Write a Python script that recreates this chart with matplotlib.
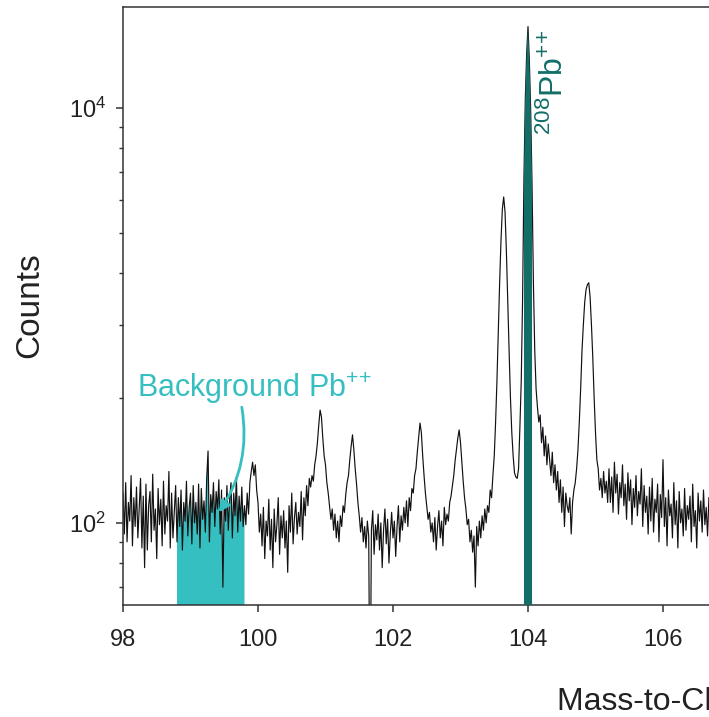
import numpy as np
import matplotlib.pyplot as plt
from matplotlib.ticker import LogLocator, NullFormatter

plt.rcParams['font.family'] = ['Liberation Sans', 'DejaVu Sans']
plt.rcParams['mathtext.fontset'] = 'custom'
plt.rcParams['mathtext.rm'] = 'Liberation Sans'
plt.rcParams['mathtext.it'] = 'Liberation Sans:italic'
plt.rcParams['mathtext.bf'] = 'Liberation Sans:bold'

# spectrum, 98.00 .. 106.68 Da, 0.02 Da steps
mz_start = 98.0
mz_step = 0.02
counts = [
    1180, 940, 1250, 900, 1120, 1010, 1300, 880, 1150, 980,      # 98.0
    1220, 920, 1090, 1280, 870, 1160, 780, 1240, 860, 1100,      # 98.2
    1190, 900, 1310, 960, 1080, 820, 1210, 990, 1140, 880,       # 98.4
    1260, 940, 1100, 1010, 1330, 870, 1180, 920, 1060, 1230,     # 98.6
    900, 1150, 980, 1200, 860, 1120, 1010, 1260, 930, 1090,      # 98.8
    1180, 890, 1230, 1000, 1120, 940, 1240, 870, 1210, 1020,     # 99.0
    1130, 950, 1280, 1490, 900, 1170, 1060, 1250, 980, 1190,     # 99.2
    1080, 1270, 940, 1200, 700, 1150, 1010, 1230, 960, 1140,     # 99.4
    1250, 920, 1180, 1040, 1290, 950, 1160, 1010, 1220, 980,     # 99.6
    1100, 990, 1180, 1050, 1250, 1330, 1400, 1300, 1380, 1200,   # 99.8
    1120, 950, 1050, 880, 1090, 820, 1010, 930, 1140, 860,       # 100.0
    1020, 780, 1080, 900, 990, 1150, 840, 1040, 920, 1070,       # 100.2
    870, 1010, 760, 1100, 950, 1180, 890, 1030, 1120, 940,       # 100.4
    1060, 980, 1190, 910, 1150, 1040, 1230, 1100, 1280, 1220,    # 100.6
    1300, 1260, 1380, 1450, 1560, 1720, 1870, 1800, 1600, 1450,  # 100.8
    1380, 1250, 1180, 1100, 1020, 1080, 960, 1050, 920, 1010,    # 101.0
    900, 1040, 980, 1100, 1060, 1170, 1250, 1300, 1420, 1530,    # 101.2
    1630, 1500, 1350, 1240, 1120, 1040, 950, 1030, 900, 980,     # 101.4
    870, 1010, 930, 300, 960, 1070, 840, 990, 910, 1050,         # 101.6
    860, 1000, 780, 960, 1080, 890, 1020, 800, 940, 1060,        # 101.8
    920, 1010, 830, 980, 1100, 900, 1040, 960, 1090, 1000,       # 102.0
    1130, 980, 1150, 1070, 1210, 1180, 1300, 1350, 1480, 1600,   # 102.2
    1740, 1650, 1450, 1300, 1180, 1100, 1020, 1060, 950, 1000,   # 102.4
    900, 1030, 860, 980, 1070, 920, 1010, 880, 1090, 990,        # 102.6
    1050, 1010, 1120, 1160, 1230, 1300, 1410, 1500, 1600, 1675,  # 102.8
    1560, 1400, 1260, 1150, 1080, 990, 1020, 900, 960, 850,      # 103.0
    930, 700, 980, 880, 1010, 920, 1040, 960, 1080, 1000,        # 103.2
    1100, 1060, 1200, 1150, 1300, 1450, 1750, 2200, 2900, 3800,  # 103.4
    4800, 5700, 6100, 5600, 4500, 3400, 2600, 2000, 1650, 1450,  # 103.6
    1320, 1290, 1280, 1350, 1700, 2200, 3500, 6800, 10500, 13500,  # 103.8
    15700, 13000, 9800, 6500, 3800, 2600, 2100, 1900, 1750, 1820,  # 104.0
    1560, 1700, 1450, 1620, 1380, 1550, 1420, 1300, 1480, 1250,  # 104.2
    1380, 1200, 1330, 1120, 1270, 1060, 1220, 980, 1180, 1100,   # 104.4
    1060, 1150, 940, 1120, 1200, 1250, 1350, 1500, 1750, 2100,   # 104.6
    2600, 3000, 3400, 3650, 3750, 3790, 3500, 3000, 2500, 2000,  # 104.8
    1650, 1420, 1350, 1200, 1280, 1150, 1330, 1180, 1260, 1120,  # 105.0
    1350, 1120, 1290, 1060, 1400, 1180, 1310, 1050, 1250, 1150,  # 105.2
    1380, 1100, 1240, 1020, 1320, 1130, 1270, 990, 1210, 1090,   # 105.4
    1300, 1040, 1190, 1110, 1350, 980, 1230, 1060, 1160, 940,    # 105.6
    1220, 1010, 1280, 950, 1140, 1060, 1240, 900, 1170, 1030,    # 105.8
    1420, 980, 1150, 880, 1200, 1040, 1110, 920, 1250, 990,      # 106.0
    1130, 870, 1190, 1000, 1080, 930, 1210, 960, 1100, 1020,     # 106.2
    1160, 900, 1240, 980, 1070, 870, 1180, 1010, 1130, 950,      # 106.4
    1200, 990, 1090, 930, 1150,                                  # 106.6
]
mz = np.round(mz_start + mz_step * np.arange(len(counts)), 2)
counts = np.array(counts)

bg_range = (98.80, 99.80)      # background window
pb_range = (103.94, 104.06)    # 208Pb++ window

xticks = [98, 100, 102, 104, 106]
yticks = [1e3, 1e4]
yticklabels = [r'$\mathregular{10^2}$', r'$\mathregular{10^4}$']

cyan = '#36BFC1'
teal = '#136E68'

fig = plt.figure(figsize=(7.09, 7.17), dpi=100)
ax = fig.add_axes([123 / 709, 112 / 717, 675 / 709, 598 / 717])

ylo, yhi = 634, 17500
ax.set_yscale('log')

m_bg = (mz >= bg_range[0]) & (mz <= bg_range[1])
ax.fill_between(mz, 1, counts, where=m_bg, color=cyan, lw=0, zorder=1)
ax.plot(mz, counts, color='#111111', lw=0.85, zorder=2)
m_pb = (mz >= pb_range[0]) & (mz <= pb_range[1])
ax.fill_between(mz, 1, counts, where=m_pb, color=teal, lw=0, zorder=3)

ax.set_xlim(98, 108)
ax.set_ylim(ylo, yhi)
ax.set_xticks(xticks)
ax.set_yticks(yticks, yticklabels)
ax.yaxis.set_minor_locator(LogLocator(base=10, subs=np.arange(2, 10)))
ax.yaxis.set_minor_formatter(NullFormatter())

for s in ax.spines.values():
    s.set_color('#333333')
    s.set_linewidth(1.1)
ax.tick_params(which='major', length=5, width=1.1, color='#333333',
               labelsize=17, labelcolor='#222222')
ax.tick_params(axis='x', pad=12)
ax.tick_params(axis='y', pad=7)
ax.tick_params(which='minor', length=3, width=1.0, color='#333333')

fig.text(30 / 709, 1 - 305 / 717, 'Counts', rotation=90, ha='center',
         va='center', fontsize=24, color='#222222')
fig.text(557 / 709, 1 - 710 / 717, 'Mass-to-Charge-State Ratio (Da)',
         ha='left', va='baseline', fontsize=23, color='#222222')

fig.text(137 / 709, 1 - 397 / 717, r'Background Pb$^{{+}{+}}$',
         ha='left', va='baseline', fontsize=22, color=cyan)
ax.annotate('', xy=(99.42, 1060), xytext=(99.76, 1900),
            arrowprops=dict(arrowstyle='-|>', color=cyan, lw=2,
                            connectionstyle='arc3,rad=-0.2',
                            mutation_scale=16, shrinkA=0, shrinkB=0))

fig.text(554 / 709, 1 - 82 / 717, r'$\mathregular{^{208}Pb^{{+}{+}}}$',
         rotation=90, ha='center', va='center', fontsize=23, color=teal)

fig.savefig('out.png', dpi=100)
